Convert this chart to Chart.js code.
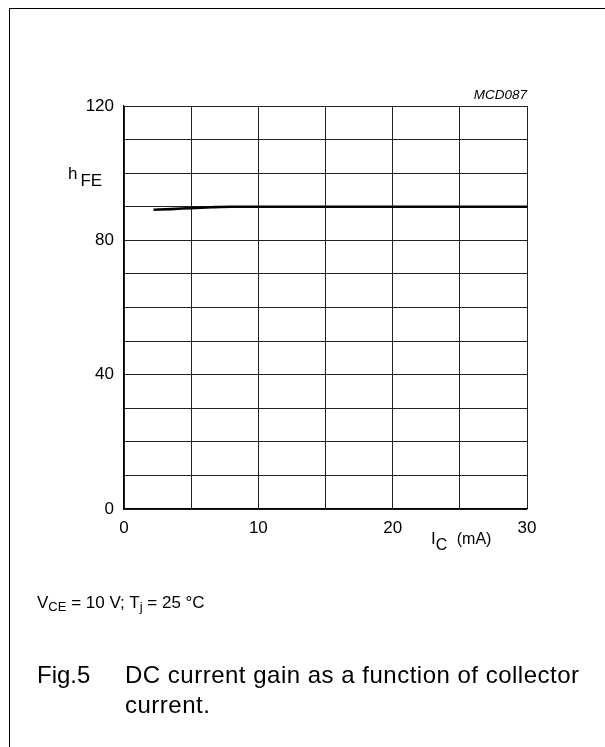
<!DOCTYPE html>
<html>
<head>
<meta charset="utf-8">
<script src="https://cdn.jsdelivr.net/npm/chart.js@4.4.1/dist/chart.umd.min.js"></script>
<style>
  body { margin: 0; background: #fff; }
  #page { position: relative; width: 605px; height: 747px; overflow: hidden; font-family: Arial, "Liberation Sans", sans-serif; color: #000; }
  #frame { position: absolute; left: 9px; top: 8px; width: 620px; height: 760px; border-left: 1.5px solid #000; border-top: 1.5px solid #000; }
  #chart { position: absolute; left: 0; top: 0; }
  .lbl { position: absolute; white-space: nowrap; line-height: 1; }
  .sub { position: relative; }
</style>
</head>
<body>
<div id="page">
  <div id="frame"></div>
  <canvas id="chart" width="605" height="747"></canvas>
  <div class="lbl" style="right:78px; top:88px; font-size:13.5px; font-style:italic;">MCD087</div>
  <div class="lbl" style="left:68px; top:165px; font-size:17px;">h<span class="sub" style="top:7px; font-size:17px; margin-left:3px;">FE</span></div>
  <div class="lbl" style="left:431px; top:530px; font-size:17px;">I<span class="sub" style="top:6px; font-size:16px;">C</span>&nbsp; <span style="font-size:16px;">(mA)</span></div>
  <div class="lbl" style="left:37px; top:594px; font-size:17px;">V<span class="sub" style="top:3px; font-size:13px;">CE</span> = 10 V; T<span class="sub" style="top:3px; font-size:13px;">j</span> = 25 °C</div>
  <div class="lbl" style="left:37px; top:663px; font-size:24px;">Fig.5</div>
  <div class="lbl" style="left:125px; top:663px; font-size:24px; line-height:30px; margin-top:-3px; letter-spacing:0.5px;">DC current gain as a function of collector<br>current.</div>
</div>
<script>
'use strict';

// collector current (mA) and DC current gain
let icValues=[2.2,3.5,5,6.5,8,10,15,20,25,30];
let hfeValues=[89.1,89.3,89.6,89.85,90,90,90,90,90,90];
let xTickLabels=[0,10,20,30];
let yTickLabels=[0,40,80,120];

let canvasElem=document.getElementById('chart');

function renderChart(){
    let points=[];
    for(let i=0;i<icValues.length;i++){
        points.push({x:icValues[i],y:hfeValues[i]});
    }

    Chart.defaults.font.family='Arial, "Liberation Sans", sans-serif';
    Chart.defaults.font.size=17;
    Chart.defaults.color='#000';

    let chartObj={
        type:'scatter',
        data:{
            datasets:[{
                data:points,
                showLine:true,
                borderColor:'#000',
                borderWidth:2.6,
                pointRadius:0,
                cubicInterpolationMode:'monotone'
            }]
        },
        options:{
            responsive:false,
            animation:false,
            devicePixelRatio:1,
            layout:{
                padding:{left:0,top:106,right:78,bottom:198}
            },
            plugins:{
                legend:{display:false},
                tooltip:{enabled:false}
            },
            scales:{
                x:{
                    type:'linear',
                    min:0,
                    max:30,
                    afterFit:function(scale){scale.height=40;},
                    ticks:{
                        stepSize:5,
                        autoSkip:false,
                        maxRotation:0,
                        padding:9,
                        callback:function(v){return xTickLabels.includes(v)?String(v):'';}
                    },
                    grid:{color:'#222',lineWidth:1,drawTicks:false},
                    border:{color:'#000',width:1.2}
                },
                y:{
                    min:0,
                    max:120,
                    afterFit:function(scale){scale.width=124;},
                    ticks:{
                        stepSize:10,
                        autoSkip:false,
                        padding:10,
                        callback:function(v){return yTickLabels.includes(v)?String(v):'';}
                    },
                    grid:{color:'#222',lineWidth:1,drawTicks:false},
                    border:{color:'#000',width:1.2}
                }
            }
        }
    };
    new Chart(canvasElem,chartObj);
}

renderChart();
</script>
</body>
</html>
